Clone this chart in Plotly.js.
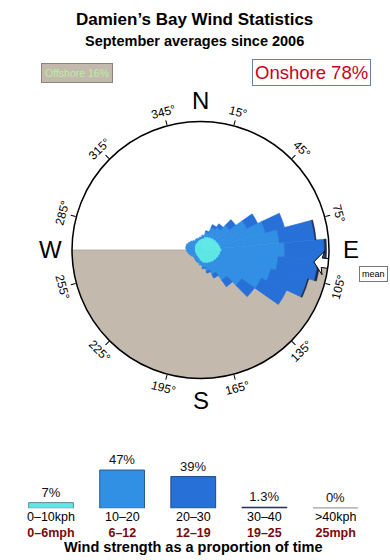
<!DOCTYPE html>
<html><head><meta charset="utf-8">
<script src="https://cdn.plot.ly/plotly-3.0.1.min.js"></script>
<style>html,body{margin:0;padding:0;background:#fff}#chart{width:390px;height:560px}</style>
</head><body><div id="chart"></div>
<script>
// ---- data ----
const directions = [0,10,20,30,40,50,60,70,80,90,100,110,120,130,140,150,160,170,180,190,200,210,220,230,240,250,260,270,280,290,300,310,320,330,340,350];
const speed0to10  = [11,12,14,15,16,17,18,19,20,21,20,19,18,17,16,15,14,13,11,9,8,7,7,6,6,6,6,6,6,6,7,7,8,8,9,10];
const speed10to20 = [2,3,5,10,12,18,33,48,59,63,58,54,49,33,21,12,8,5,4,4,4,4,3,4,5,6,7,8,9,9,7,6,4,3,3,2];
const speed20to30 = [0,0,1,3,4,8,12,20,36,40,40,38,28,16,8,4,2,1,0,0,0,0,0,0,0,0,0,0,0,0,0,0,0,0,0,0];
const speed30to40 = [0,0,0,0,0,0,0,0,1,2,2,1,0,0,0,0,0,0,0,0,0,0,0,0,0,0,0,0,0,0,0,0,0,0,0,0];
const roseMax = 128.5;
const offshoreFrom = 95, offshoreTo = 270;
const meanDirection = 96;

const speedCats  = ['0–10kph','10–20','20–30','30–40','>40kph'];
const mphLabels  = ['0–6mph','6–12','12–19','19–25','25mph'];
const speedShare = [7,47,39,1.3,0];
const shareLabels = ['7%','47%','39%','1.3%','0%'];
const degTicks = [15,45,75,105,135,165,195,225,255,285,315,345];
const compassDirs = [0,90,180,270];
const compassLabels = ['N','E','S','W'];

// ---- styles ----
const W=390,H=560;
const cx=200.5, cy=250, R=128.5;
const P=(x,y)=>[x/W, 1-y/H];
const font='Liberation Sans, Arial, sans-serif';
const speedColors=['#5ce8e6','#318fe4','#2670d8','#1c2a4c','#9a9a9a'];
const barLine=['#6a8a8a','#2a5a90','#1e4a90','#1c2a4c','#9a9a9a'];

function add(a,b){return a.map((v,i)=>v+b[i]);}
const b1 = speed0to10.slice();
const b2 = add(b1, speed10to20);
const b3 = add(b2, speed20to30);

const traces=[];
traces.push({type:'barpolar', subplot:'polar', r:[roseMax], theta:[(offshoreFrom+offshoreTo)/2], width:[offshoreTo-offshoreFrom],
  marker:{color:'#c4b9ad', line:{color:'#a9a199', width:0.8}}, hoverinfo:'skip', showlegend:false});
const rings=[[speed0to10,null],[speed10to20,b1],[speed20to30,b2],[speed30to40,b3]];
rings.forEach((rg,k)=>{
  const t={type:'barpolar', subplot:'polar', r:rg[0], theta:directions, width:directions.map(()=>10),
    marker:{color:speedColors[k], line:{color:speedColors[k], width:0.6}}, showlegend:false, hoverinfo:'skip'};
  if(rg[1]) t.base=rg[1];
  traces.push(t);
});
const ar=[[114,0],[124,5.5],[122,2.2],[129,2.2],[129,-2.2],[122,-2.2],[124,-5.5],[114,0]];
traces.push({type:'scatterpolar', subplot:'polar', mode:'lines', fill:'toself', fillcolor:'#ffffff',
  r:ar.map(p=>p[0]), theta:ar.map(p=>meanDirection+p[1]), line:{color:'#000',width:1}, showlegend:false, hoverinfo:'skip'});

const catIdx = speedCats.map((c,i)=>i);
traces.push({type:'bar', x:catIdx, y:speedShare, width:0.63, xaxis:'x', yaxis:'y',
  marker:{color:speedColors, line:{color:barLine, width:1}},
  text:shareLabels, textposition:'outside', textfont:{family:font,size:13,color:'#111'}, cliponaxis:false,
  showlegend:false, hoverinfo:'skip'});

const ann=[];
function A(x,y,text,opt){const p=P(x,y);ann.push(Object.assign({x:p[0],y:p[1],xref:'paper',yref:'paper',xanchor:'center',yanchor:'middle',text:text,showarrow:false,font:{family:font,size:12,color:'#000'}},opt||{}));}
A(194,19.5,'<b>Damien’s Bay Wind Statistics</b>',{font:{family:font,size:17,color:'#000'}});
A(194,41,'<b>September averages since 2006</b>',{font:{family:font,size:14.5,color:'#000'}});
A(76.5,73,'Offshore 16%',{font:{family:font,size:10.5,color:'#b4f0a0'},bgcolor:'#c4b9ad',bordercolor:'#8c847c',borderwidth:1,borderpad:3});
A(311.5,73,'Onshore 78%',{font:{family:font,size:18.5,color:'#c8001c'},bgcolor:'#fff',bordercolor:'#6a84a8',borderwidth:1,borderpad:2});
A(373,274,'mean',{font:{family:font,size:9,color:'#000'},bgcolor:'#fff',bordercolor:'#777',borderwidth:1,borderpad:2});
degTicks.forEach(d=>{
  const rad=d*Math.PI/180, rl=143;
  const ang = d<90?d:(d<270?d-180:d-360);
  A(cx+rl*Math.sin(rad), cy-rl*Math.cos(rad), d+'°', {textangle:ang, font:{family:font,size:12,color:'#000'}});
});
compassDirs.forEach((d,i)=>{
  const rad=d*Math.PI/180, rl=150;
  A(cx+rl*Math.sin(rad), cy-rl*Math.cos(rad), compassLabels[i], {font:{family:font,size:24,color:'#000'}});
});
catIdx.forEach(i=>{
  ann.push({x:i,xref:'x',y:P(0,524.5)[1],yref:'paper',xanchor:'center',yanchor:'middle',borderpad:0,
    text:speedCats[i]+'<br><b><span style="color:#7a0a0a">'+mphLabels[i]+'</span></b>',showarrow:false,font:{family:font,size:12.5,color:'#000'}});
});
A(193,547,'<b>Wind strength as a proportion of time</b>',{font:{family:font,size:14.5,color:'#000'}});

const shapes = catIdx.filter(i=>speedShare[i]===0).map(i=>({type:'line',xref:'x',yref:'y',x0:i-0.315,x1:i+0.315,y0:0,y1:0,line:{color:speedColors[i],width:1.5}}));

const layout={
  width:W,height:H,margin:{l:0,r:0,t:0,b:0},paper_bgcolor:'#fff',plot_bgcolor:'rgba(0,0,0,0)',
  showlegend:false, font:{family:font},
  polar:{domain:{x:[72/W,329/W], y:[1-378.5/H,1-121.5/H]}, bgcolor:'#fff', barmode:'overlay',
    radialaxis:{visible:false, range:[0,roseMax]},
    angularaxis:{rotation:90, direction:'clockwise', showgrid:false, tickmode:'array', tickvals:degTicks,
      ticks:'outside', ticklen:5, tickcolor:'#000', showticklabels:false, linecolor:'#000', linewidth:1.5, layer:'above traces'}},
  xaxis:{domain:[15.45/W,371.05/W], range:[-0.5,4.5], visible:false, fixedrange:true},
  yaxis:{domain:[1-508.3/H,1-467.6/H], range:[0,50], visible:false, fixedrange:true},
  annotations:ann, shapes:shapes
};
Plotly.newPlot('chart',traces,layout,{staticPlot:true,displayModeBar:false});
</script></body></html>
